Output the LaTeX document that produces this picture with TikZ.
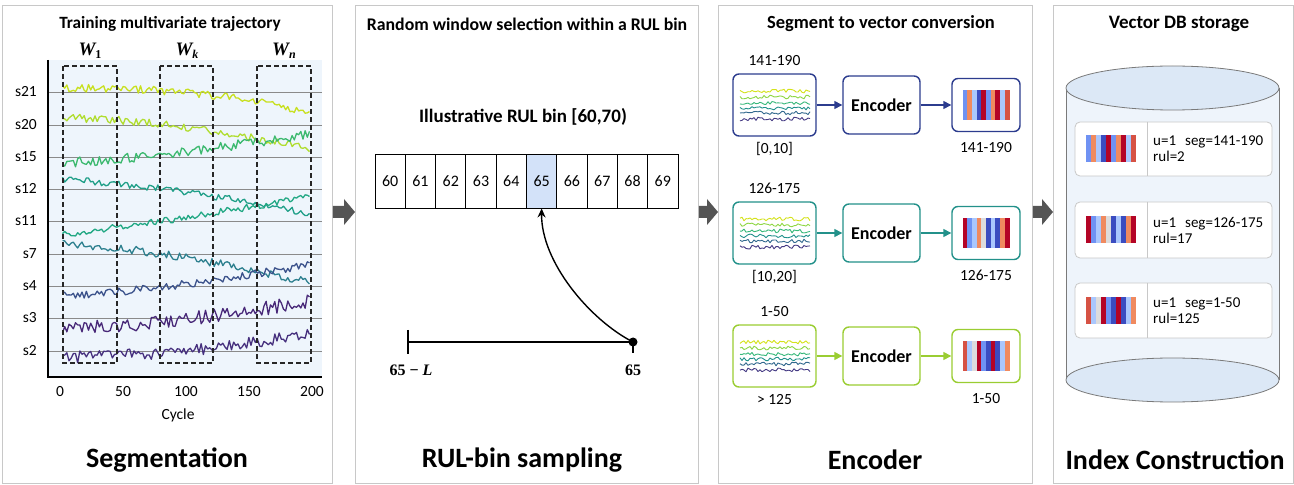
\documentclass[tikz,border=0pt]{standalone}
\usepackage{fontspec}
\setmainfont{Carlito}
\newfontfamily\serifb{Liberation Serif}
\usetikzlibrary{arrows.meta,calc}
\definecolor{panelgray}{HTML}{C8C8C8}
\definecolor{arrowgray}{HTML}{555555}
\definecolor{gridgray}{HTML}{8A8A8A}
\definecolor{plotbg}{HTML}{EEF5FC}
\definecolor{cellblue}{HTML}{D3E2F9}
\definecolor{cylbody}{HTML}{EEF4FB}
\definecolor{cylcap}{HTML}{DCE8F6}
\definecolor{cylline}{HTML}{7A7A7A}
% viridis-like
\definecolor{vA}{HTML}{C8E020}
\definecolor{vB}{HTML}{B0DD2F}
\definecolor{vC}{HTML}{3CB96F}
\definecolor{vD}{HTML}{1F9F88}
\definecolor{vE}{HTML}{22A884}
\definecolor{vF}{HTML}{2C7F8E}
\definecolor{vG}{HTML}{3B528B}
\definecolor{vH}{HTML}{482878}
\definecolor{vI}{HTML}{46307E}
\definecolor{mA}{HTML}{D4E21A}
\definecolor{mB}{HTML}{8FD744}
\definecolor{mC}{HTML}{35B779}
\definecolor{mD}{HTML}{21918C}
\definecolor{mE}{HTML}{31688E}
\definecolor{mF}{HTML}{443983}
% row colours
\definecolor{rowA}{HTML}{2C3C8E}
\definecolor{rowB}{HTML}{23918A}
\definecolor{rowC}{HTML}{9ACD32}
% coolwarm
\definecolor{cwA}{HTML}{3B4CC0}
\definecolor{cwB}{HTML}{6F92F3}
\definecolor{cwC}{HTML}{AAC7FD}
\definecolor{cwD}{HTML}{DDDCDC}
\definecolor{cwF}{HTML}{F08A5F}
\definecolor{cwG}{HTML}{D65244}
\definecolor{cwH}{HTML}{B40426}

\newcommand\series[6]{%
  \draw[#1, line width=1.3bp, line join=round]
    plot[domain=2:198, samples=115] ({60+1.26*\x}, {#2+(#3-#2)*pow(\x/200,#5)+#4*rand});}
\newcommand\miniplot[2]{%
  \foreach \cc/\oo in {mA/0,mB/6,mC/12,mD/17,mE/22,mF/28}{%
    \draw[\cc, line width=0.9bp, line join=round]
      plot[domain=0:70, samples=36] ({#1+\x}, {#2+\oo+1.9*rand});}}
\newcommand\stripes[5]{%
  \foreach \c [count=\i from 0] in #5{%
    \fill[fill=\c] ({#1+\i*#3/10}, {#2}) rectangle ({#1+(\i+1)*#3/10}, {#2+#4});}}
\newcommand\fatarrow[2]{%
  \fill[arrowgray] ($(#1)+(0,-6)$) -- ($(#2)+(-11,-6)$) -- ($(#2)+(-11,-13)$) -- (#2)
    -- ($(#2)+(-11,13)$) -- ($(#2)+(-11,6)$) -- ($(#1)+(0,6)$) -- cycle;}
\newcommand\wlab[1]{{\serifb\bfseries\itshape W}\raisebox{-3.5bp}{\serifb\bfseries\fontsize{12bp}{13bp}\selectfont #1}}

\begin{document}
\begin{tikzpicture}[x=1bp, y=-1bp,
  ptitle/.style={font=\bfseries\fontsize{#1}{21bp}\selectfont},
  bigtitle/.style={font=\bfseries\fontsize{28bp}{30bp}\selectfont},
  lab/.style={font=\fontsize{15.5bp}{17bp}\selectfont},
  wstyle/.style={font=\fontsize{19bp}{21bp}\selectfont},
  panel/.style={draw=panelgray, line width=0.8bp, fill=white, inner sep=0, anchor=north west},
  cell/.style={draw=black, line width=0.9bp, minimum width=30.3bp, minimum height=54bp, inner sep=0, font=\fontsize{16bp}{18bp}\selectfont},
  rbox/.style={draw=#1, line width=1.4bp, rounded corners=6bp, fill=white, inner sep=0},
  enc/.style={rbox=#1, minimum width=77bp, minimum height=58bp, font=\bfseries\fontsize{18bp}{20bp}\selectfont},
  conn/.style={draw=#1, line width=1.4bp, -{Triangle[length=8bp,width=8bp]}},
  winbox/.style={draw=black!85, line width=1.3bp, dash pattern=on 5bp off 3bp},
  rectxt/.style={font=\fontsize{15bp}{16bp}\selectfont, align=left, inner sep=0, anchor=west}
]
\useasboundingbox (0,0) rectangle (1294,485);
\pgfmathsetseed{42}

% ---------- panels ----------
\node[panel, minimum width=330bp, minimum height=478bp] (p1) at (2,5) {};
\node[panel, minimum width=343bp, minimum height=478bp] (p2) at (355,5) {};
\node[panel, minimum width=314bp, minimum height=478bp] (p3) at (718,5) {};
\node[panel, minimum width=240bp, minimum height=478bp] (p4) at (1053,5) {};
\coordinate (ya) at (0,212);
\fatarrow{p1.east |- ya}{p2.west |- ya}
\fatarrow{p2.east |- ya}{p3.west |- ya}
\fatarrow{p3.east |- ya}{p4.west |- ya}

% ---------- panel 1 ----------
\node[ptitle=17.2bp] (t1) at (170,24) {Training multivariate trajectory};
\node[bigtitle] (b1) at (167,460) {Segmentation};
\fill[plotbg] (49,60) rectangle (322,376);
\foreach \yy/\lab in {92/s21,125/s20,157/s15,189/s12,221/s11,254/s7,286/s4,318/s3,351/s2}{%
  \draw[gridgray, line width=0.8bp] (48,\yy) -- (322,\yy);
  \node[lab, anchor=east, inner sep=0] (sl\lab) at (37,\yy) {\lab};}
\series{vA}{88}{114}{4}{2.5}{}
\series{vB}{118}{150}{4}{1.8}{}
\series{vC}{163}{134}{5}{1.3}{}
\series{vD}{180}{214}{3.5}{1.5}{}
\series{vE}{234}{196}{3.5}{1.2}{}
\series{vF}{244}{283}{4}{1.5}{}
\series{vG}{295}{264}{4}{1.5}{}
\series{vH}{327}{300}{7}{1.8}{}
\series{vI}{357}{332}{6}{2}{}
\draw[line width=1.6bp] (48,60) -- (48,377) -- (322,377);
\foreach \tv in {0,50,100,150,200}{%
  \node[lab] (tk\tv) at ({60+1.26*\tv},392) {\tv};}
\node[lab] (cyc) at (178,415) {Cycle};
\draw[winbox] (63,66) rectangle (117,363);
\draw[winbox] (160,66) rectangle (213,363);
\draw[winbox] (257,66) rectangle (311,363);
\node[wstyle] (w1) at (90,51) {\wlab{1}};
\node[wstyle] (wk) at (187,51) {\wlab{\itshape k}};
\node[wstyle] (wn) at (284,51) {\wlab{\itshape n}};

% ---------- panel 2 ----------
\node[ptitle=17.8bp] (t2) at (527,24) {Random window selection within a RUL bin};
\node[bigtitle] (b2) at (522,460) {RUL-bin sampling};
\node[font=\bfseries\fontsize{19bp}{21bp}\selectfont] (ill) at (523,117) {Illustrative RUL bin [60,70)};
\foreach \n [count=\i from 0] in {60,...,69}{%
  \node[cell] (c\n) at ({390.15+\i*30.3},181) {\n};}
\node[cell, fill=cellblue] (c65) at ({390.15+5*30.3},181) {65};
\coordinate (tl) at (408,342);
\node[circle, fill=black, inner sep=0, minimum size=9bp] (dot) at (633,342) {};
\draw[line width=1.5bp] (tl) -- (dot.center);
\draw[line width=1.5bp] (408,330) -- (408,354);
\draw[line width=1.5bp] (dot.center) -- (633,353);
\draw[line width=1.4bp, -{Stealth[length=9bp,width=8bp]}] (dot.center) .. controls (590,320) and (541,262) .. (c65.south);
\node[font=\serifb\bfseries\fontsize{16bp}{18bp}\selectfont] (lL) at (411,370) {65 − \textit{L}};
\node[font=\serifb\bfseries\fontsize{16bp}{18bp}\selectfont] (l65) at (633,370) {65};

% ---------- panel 3 ----------
\node[ptitle=18.5bp] (t3) at (881,24) {Segment to vector conversion};
\node[bigtitle] (b3) at (875,460) {Encoder};
\foreach \r/\yc/\col/\la/\lb/\lc/\sl in {%
  1/105/rowA/141-190/{[0,10]}/141-190/{cwB,cwF,cwC,cwA,cwH,cwB,cwF,cwH,cwC,cwG},%
  2/233/rowB/126-175/{[10,20]}/126-175/{cwH,cwB,cwC,cwF,cwD,cwA,cwC,cwA,cwF,cwH},%
  3/356/rowC/1-50/{> 125}/1-50/{cwG,cwC,cwD,cwH,cwB,cwA,cwH,cwA,cwC,cwF}}{%
  \node[rbox=\col, minimum width=83bp, minimum height=62bp] (m\r) at (774.5,\yc) {};
  \miniplot{740}{\yc-14}
  \node[enc=\col] (e\r) at (881.5,\yc) {Encoder};
  \node[rbox=\col, minimum width=68bp, minimum height=53bp] (v\r) at (986,\yc) {};
  \stripes{962.5}{\yc-15}{47}{30}{\sl}
  \draw[conn=\col] (m\r) -- (e\r);
  \draw[conn=\col] (e\r) -- (v\r);
  \node[lab] (la\r) at ($(m\r.north)+(0,-13)$) {\la};
  \node[lab] (lb\r) at ($(m\r.south)+(0,12)$) {\lb};
  \node[lab] (lc\r) at ($(v\r.south)+(0,15)$) {\lc};
}

% ---------- panel 4 ----------
\node[ptitle=19bp] (t4) at (1179,24) {Vector DB storage};
\node[bigtitle] (b4) at (1175,460) {Index Construction};
\fill[cylbody] (1066,88) rectangle (1279,380);
\draw[cylline, line width=0.8bp] (1066,88) -- (1066,380);
\draw[cylline, line width=0.8bp] (1279,88) -- (1279,380);
\draw[cylline, line width=0.8bp, fill=cylcap] (1172.5,380) ellipse [x radius=106.5, y radius=22];
\draw[cylline, line width=0.8bp, fill=cylcap] (1172.5,88) ellipse [x radius=106.5, y radius=22];
\foreach \r/\yc/\h/\sl/\ta/\tb in {%
  1/149/54/{cwB,cwF,cwC,cwA,cwH,cwB,cwF,cwH,cwC,cwG}/141-190/2,%
  2/230/56/{cwH,cwB,cwC,cwF,cwD,cwA,cwC,cwA,cwF,cwH}/126-175/17,%
  3/310.5/55/{cwG,cwC,cwD,cwH,cwB,cwA,cwH,cwA,cwC,cwF}/1-50/125}{%
  \node[draw=panelgray, line width=0.8bp, fill=white, rounded corners=5bp, minimum width=197bp, minimum height=\h bp, inner sep=0] (rec\r) at (1173.5,\yc) {};
  \draw[panelgray, line width=0.8bp] (1147,{\yc-\h/2}) -- (1147,{\yc+\h/2});
  \stripes{1086}{\yc-13.5}{50}{27}{\sl}
  \node[rectxt] (rt\r) at (1153,\yc) {u=1\hspace{9bp}seg=\ta\\rul=\tb};
}
\end{tikzpicture}
\end{document}
